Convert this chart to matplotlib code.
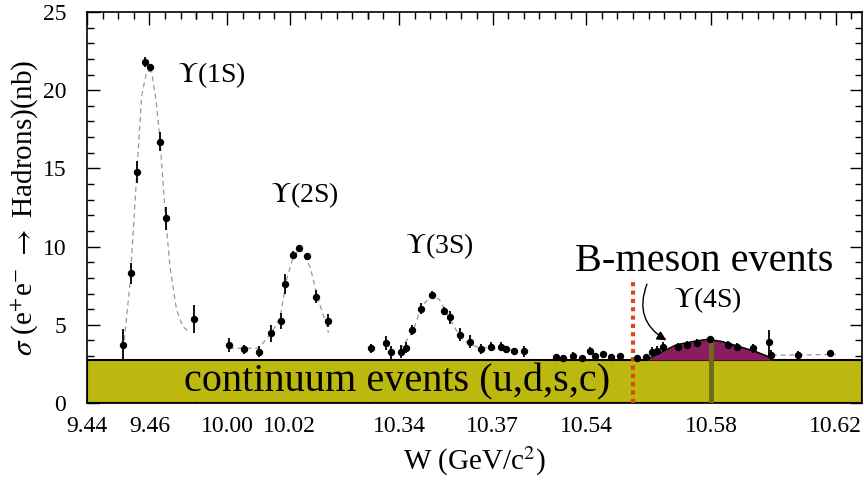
import matplotlib
matplotlib.use("Agg")
import matplotlib.pyplot as plt
import numpy as np

plt.rcParams['font.family'] = ['Liberation Serif', 'DejaVu Serif']
plt.rcParams['mathtext.fontset'] = 'stix'

# --- measured cross sections (W in GeV, sigma in nb) ---
w_1s = [9.4516, 9.4540, 9.4561, 9.4587, 9.4603, 9.4634, 9.4652, 9.4742]
s_1s = [3.71, 8.29, 14.75, 21.8, 21.5, 16.7, 11.8, 5.37]
e_1s = [1.0, 0.65, 0.7, 0.3, 0.2, 0.6, 0.75, 0.9]

w_2s = [10.0005, 10.0054, 10.0102, 10.0140, 10.0172, 10.0184, 10.0209, 10.0230,
        10.0254, 10.0285, 10.0322]
s_2s = [3.71, 3.43, 3.28, 4.46, 5.26, 7.61, 9.48, 9.93, 9.40, 6.80, 5.26]
e_2s = [0.45, 0.3, 0.35, 0.55, 0.5, 0.65, 0.25, 0.2, 0.2, 0.4, 0.4]

w_3s = [10.3310, 10.3357, 10.3375, 10.3405, 10.3422, 10.3443, 10.3472, 10.3505,
        10.3545, 10.3563, 10.3595, 10.3627, 10.3663, 10.3696, 10.3728, 10.3744,
        10.3768, 10.3800]
s_3s = [3.50, 3.85, 3.24, 3.28, 3.54, 4.67, 6.03, 6.93, 5.90, 5.48, 4.37, 3.92,
        3.45, 3.60, 3.60, 3.43, 3.32, 3.32]
e_3s = [0.3, 0.45, 0.4, 0.4, 0.35, 0.3, 0.35, 0.2, 0.25, 0.4, 0.4, 0.4,
        0.3, 0.3, 0.3, 0.2, 0.2, 0.35]

w_4s = [10.5303, 10.5326, 10.5357, 10.5385, 10.5412, 10.5428, 10.5453, 10.5481,
        10.5508, 10.5564, 10.5592, 10.5610, 10.5626, 10.5647, 10.5695, 10.5722,
        10.5754, 10.5797, 10.5855, 10.5882, 10.5936, 10.5987, 10.5991, 10.6080,
        10.6181]
s_4s = [2.96, 2.90, 3.03, 2.90, 3.35, 3.00, 3.11, 2.96, 3.00, 2.88, 2.96, 3.28,
        3.35, 3.60, 3.60, 3.71, 3.82, 4.07, 3.71, 3.60, 3.50, 3.88, 3.07, 3.07,
        3.22]
e_4s = [0.2, 0.2, 0.2, 0.2, 0.2, 0.2, 0.2, 0.2, 0.2, 0.2, 0.2, 0.3,
        0.3, 0.3, 0.25, 0.25, 0.25, 0.2, 0.25, 0.25, 0.3, 0.8, 0.3, 0.25,
        0.2]

# --- fitted line shapes ---
fit_w_1s = [9.4514, 9.4538, 9.4559, 9.4575, 9.4591, 9.4607, 9.4621, 9.4634,
            9.4650, 9.4666, 9.4687, 9.4708, 9.4730]
fit_s_1s = [2.9, 7.7, 14.5, 19.6, 21.2, 21.2, 19.4, 16.8, 12.3, 8.7, 5.95, 4.86, 4.54]

fit_w_2s = [10.0005, 10.0100, 10.0142, 10.0169, 10.0190, 10.0211, 10.0233,
            10.0265, 10.0291, 10.0313, 10.0324]
fit_s_2s = [3.5, 3.5, 4.5, 5.5, 7.9, 9.35, 9.9, 8.7, 6.6, 5.3, 4.5]

fit_w_3s = [10.3403, 10.3445, 10.3472, 10.3505, 10.3530, 10.3556, 10.3583,
            10.3615, 10.3647, 10.3700, 10.3760]
fit_s_3s = [3.4, 4.6, 6.16, 6.9, 6.6, 5.63, 4.67, 3.92, 3.6, 3.5, 3.4]

fit_w_4s_tail = [10.5995, 10.6200]
fit_s_4s_tail = [3.05, 3.10]

# B-meson (Upsilon(4S)) excess above the continuum
bm_w = [10.5592, 10.5645, 10.5688, 10.5741, 10.5789, 10.5837, 10.5891,
        10.5944, 10.5997]
bm_s = [2.75, 3.28, 3.71, 3.92, 4.07, 3.92, 3.60, 3.28, 2.85]

continuum = 2.75
threshold_w = 10.555
peak_w = 10.58

tick_w = [9.44, 9.46, 10.00, 10.02, 10.34, 10.37, 10.54, 10.58, 10.62]
tick_txt = ['9.44', '9.46', '10.00', '10.02', '10.34', '10.37', '10.54', '10.58', '10.62']

# broken W axis: four windows glued together
seg_w = [9.44, 9.475, 9.99, 10.045, 10.33, 10.39, 10.53, 10.64]
seg_p = [0.0, 0.035, 0.03501, 0.09, 0.09001, 0.15, 0.15001, 0.26]


def forward(w):
    return np.interp(w, seg_w, seg_p)


def inverse(p):
    return np.interp(p, seg_p, seg_w)


fig = plt.figure(figsize=(8.64, 4.83), dpi=100)
ax = fig.add_axes([87 / 864, 80 / 483, 775 / 864, 391 / 483])
ax.set_xscale('function', functions=(forward, inverse))
ax.set_xlim(9.44, 10.6284)
ax.set_ylim(0, 25)

# continuum band
ax.axhspan(0, continuum, facecolor='#bdb80f', edgecolor='black', lw=1.5, zorder=3)
ax.text(0.40, 0.054, 'continuum events (u,d,s,c)', transform=ax.transAxes,
        ha='center', va='center', fontsize=29, zorder=6)

# B-meson bump
ax.fill_between(bm_w, continuum, bm_s, color='#8a1d5f', lw=0, zorder=3.5)
ax.plot(bm_w, bm_s, color='black', lw=1.2, zorder=4)
ax.plot([peak_w, peak_w], [0, 4.07], color='#6f6a18', lw=3.5, zorder=3.8)
ax.plot([threshold_w, threshold_w], [0, 7.76], color='#d9461b', lw=3,
        linestyle=(0, (1, 1)), zorder=4)

# fits
for fw, fs in [(fit_w_1s, fit_s_1s), (fit_w_2s, fit_s_2s), (fit_w_3s, fit_s_3s),
               (fit_w_4s_tail, fit_s_4s_tail)]:
    ax.plot(fw, fs, color='#999999', lw=0.9, linestyle=(0, (4, 3)), zorder=4)

# data
for w, s, e in [(w_1s, s_1s, e_1s), (w_2s, s_2s, e_2s), (w_3s, s_3s, e_3s), (w_4s, s_4s, e_4s)]:
    ax.errorbar(w, s, yerr=e, fmt='o', color='black', ms=4.3, elinewidth=1.3,
                capsize=0, zorder=5)

# labels
ax.text(0.161, 0.839, r'$\Upsilon$(1S)', transform=ax.transAxes, ha='center', va='center', fontsize=20)
ax.text(0.280, 0.532, r'$\Upsilon$(2S)', transform=ax.transAxes, ha='center', va='center', fontsize=20)
ax.text(0.454, 0.402, r'$\Upsilon$(3S)', transform=ax.transAxes, ha='center', va='center', fontsize=20)
ax.text(0.801, 0.263, r'$\Upsilon$(4S)', transform=ax.transAxes, ha='center', va='center', fontsize=20)
ax.text(0.797, 0.361, 'B-meson events', transform=ax.transAxes, ha='center', va='center', fontsize=29)
ax.annotate('', xy=(10.5665, 3.92), xytext=(10.5598, 7.76),
            arrowprops=dict(arrowstyle='-|>', color='black', lw=1.0,
                            connectionstyle='arc3,rad=0.45', mutation_scale=14),
            zorder=6)

# ticks
ax.set_xticks(tick_w)
ax.set_xticklabels(tick_txt)
minor_w = np.concatenate([np.arange(9.44, 9.4751, 0.005), np.arange(9.99, 10.0451, 0.005),
                          np.arange(10.33, 10.3851, 0.005), np.arange(10.53, 10.6251, 0.005)])
ax.set_xticks(minor_w, minor=True)
ax.set_yticks(range(0, 26, 5))
ax.set_yticks(range(0, 26), minor=True)
ax.tick_params(which='both', direction='in', top=True, right=True, labelsize=17)
ax.tick_params(axis='x', which='major', pad=9)
ax.tick_params(axis='y', which='major', pad=15)
ax.tick_params(which='major', length=9, width=1)
ax.tick_params(which='minor', length=5, width=1)
for sp in ax.spines.values():
    sp.set_linewidth(1.2)

ax.set_xlabel(r'W (GeV/c$^{2}$)', fontsize=21, labelpad=6)
ax.set_ylabel(r'$\sigma$ (e$^{+}$e$^{-}$ $\rightarrow$ Hadrons)(nb)', fontsize=21, labelpad=1)

fig.savefig('out.png', dpi=100)
